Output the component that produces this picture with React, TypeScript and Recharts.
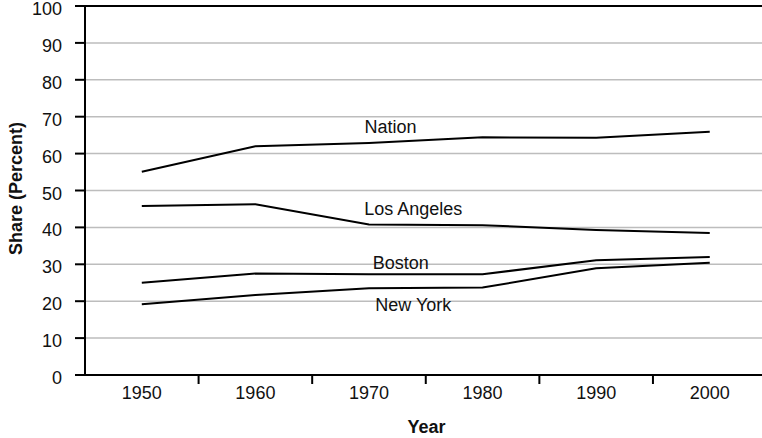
import React from "react";
import { LineChart, Line, XAxis, YAxis, CartesianGrid, ReferenceLine, ReferenceDot } from "recharts";

const years = [1950, 1960, 1970, 1980, 1990, 2000];
const nation = [55.1, 62.0, 62.9, 64.4, 64.3, 65.9];
const losAngeles = [45.8, 46.3, 40.8, 40.6, 39.3, 38.5];
const boston = [25.0, 27.5, 27.3, 27.3, 31.1, 32.0];
const newYork = [19.2, 21.7, 23.5, 23.7, 28.9, 30.4];

const xTicks = [1950, 1955, 1960, 1965, 1970, 1975, 1980, 1985, 1990, 1995, 2000];
const yTicks = [0, 10, 20, 30, 40, 50, 60, 70, 80, 90, 100];

const seriesLabels = [
  { text: "Nation", year: 1971.9, value: 67.3 },
  { text: "Los Angeles", year: 1973.9, value: 45.1 },
  { text: "Boston", year: 1972.8, value: 30.4 },
  { text: "New York", year: 1973.9, value: 19.2 },
];

const data = years.map((year, i) => ({
  year,
  nation: nation[i],
  losAngeles: losAngeles[i],
  boston: boston[i],
  newYork: newYork[i],
}));

const FONT = "'Liberation Sans', Arial, Helvetica, sans-serif";
const FS = 18;

const XTick = (props: any) => {
  const { x, y, payload } = props;
  const v = payload.value;
  if (v % 10 === 5) {
    return <line x1={x} x2={x} y1={y} y2={y + 9} stroke="#000" strokeWidth={2} />;
  }
  return (
    <text x={x} y={y + 23.5} textAnchor="middle" fontSize={FS} fill="#111" fontFamily={FONT}>
      {v}
    </text>
  );
};

const YTick = (props: any) => {
  const { x, y, payload } = props;
  return (
    <text x={x} y={y + 9} textAnchor="end" fontSize={FS} fill="#111" fontFamily={FONT}>
      {payload.value}
    </text>
  );
};

export default function App() {
  return (
    <div style={{ position: "absolute", left: 0, top: 0, fontFamily: FONT, background: "#fff" }}>
      <LineChart width={762} height={438} data={data} margin={{ top: 6, right: 0, bottom: 0, left: 0 }}>
        <CartesianGrid vertical={false} stroke="#bdbdbd" strokeWidth={1.5} />
        <XAxis
          dataKey="year"
          type="number"
          domain={[1945, 2004.6]}
          allowDataOverflow
          ticks={xTicks}
          interval={0}
          tick={<XTick />}
          tickLine={false}
          tickSize={0}
          tickMargin={0}
          height={63}
          axisLine={{ stroke: "#000", strokeWidth: 2 }}
          label={{ value: "Year", position: "insideBottom", offset: 5, dx: 3, style: { fontWeight: "bold", fontSize: FS, fill: "#111", fontFamily: FONT } }}
        />
        <YAxis
          type="number"
          domain={[0, 100]}
          ticks={yTicks}
          interval={0}
          width={85}
          tickSize={10}
          tickMargin={13}
          tick={<YTick />}
          tickLine={{ stroke: "#000", strokeWidth: 2 }}
          axisLine={{ stroke: "#000", strokeWidth: 2 }}
          label={{ value: "Share (Percent)", angle: -90, position: "insideLeft", offset: 16, dy: -2, style: { textAnchor: "middle", fontWeight: "bold", fontSize: FS, fill: "#111", fontFamily: FONT } }}
        />
        <ReferenceLine y={100} stroke="#000" strokeWidth={2} />
        <Line dataKey="nation" stroke="#000" strokeWidth={2} dot={false} isAnimationActive={false} />
        <Line dataKey="losAngeles" stroke="#000" strokeWidth={2} dot={false} isAnimationActive={false} />
        <Line dataKey="boston" stroke="#000" strokeWidth={2} dot={false} isAnimationActive={false} />
        <Line dataKey="newYork" stroke="#000" strokeWidth={2} dot={false} isAnimationActive={false} />
        {seriesLabels.map((l) => (
          <ReferenceDot
            key={l.text}
            x={l.year}
            y={l.value}
            r={1}
            fill="none"
            stroke="none"
            label={{ value: l.text, position: "center", style: { fontSize: FS, fill: "#111", fontFamily: FONT } }}
          />
        ))}
      </LineChart>
    </div>
  );
}
